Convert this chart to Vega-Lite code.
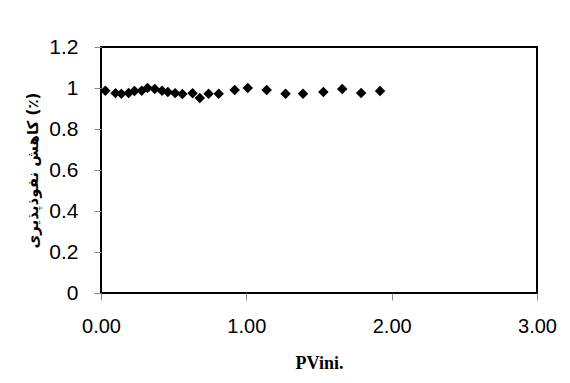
{
  "$schema": "https://vega.github.io/schema/vega-lite/v6.json",
  "width": 436,
  "height": 246,
  "autosize": "none",
  "padding": {"left": 101, "top": 47, "right": 33, "bottom": 90},
  "background": "white",
  "config": {
    "view": {"stroke": "black", "strokeWidth": 2},
    "axis": {"grid": false, "domain": false, "tickColor": "#888888", "tickSize": 7, "labelFont": "Liberation Sans", "labelColor": "black"}
  },
  "data": {
    "values": [
      {"pv": 0.03, "r": 0.987},
      {"pv": 0.10, "r": 0.975},
      {"pv": 0.14, "r": 0.972},
      {"pv": 0.19, "r": 0.976},
      {"pv": 0.23, "r": 0.985},
      {"pv": 0.28, "r": 0.987},
      {"pv": 0.32, "r": 1.0},
      {"pv": 0.37, "r": 0.995},
      {"pv": 0.42, "r": 0.987},
      {"pv": 0.46, "r": 0.98},
      {"pv": 0.51, "r": 0.975},
      {"pv": 0.56, "r": 0.971},
      {"pv": 0.63, "r": 0.974},
      {"pv": 0.68, "r": 0.951},
      {"pv": 0.74, "r": 0.972},
      {"pv": 0.81, "r": 0.972},
      {"pv": 0.92, "r": 0.99},
      {"pv": 1.01, "r": 1.0},
      {"pv": 1.14, "r": 0.99},
      {"pv": 1.27, "r": 0.972},
      {"pv": 1.39, "r": 0.972},
      {"pv": 1.53, "r": 0.98},
      {"pv": 1.66, "r": 0.995},
      {"pv": 1.79, "r": 0.976},
      {"pv": 1.92, "r": 0.985}
    ]
  },
  "mark": {"type": "point", "shape": "diamond", "filled": true, "color": "black", "opacity": 1, "size": 110},
  "encoding": {
    "x": {
      "field": "pv", "type": "quantitative",
      "scale": {"domain": [0, 3], "nice": false, "zero": true},
      "axis": {"values": [0, 1, 2, 3], "format": ".2f", "labelFlush": false, "labelFontSize": 20, "labelPadding": 16, "title": "PVini.", "titleFont": "Liberation Serif", "titleFontSize": 18, "titleFontWeight": "bold", "titlePadding": 18, "titleColor": "black"}
    },
    "y": {
      "field": "r", "type": "quantitative",
      "scale": {"domain": [0, 1.2], "nice": false},
      "axis": {"values": [0, 0.2, 0.4, 0.6, 0.8, 1, 1.2], "format": ".1~f", "labelFlush": false, "labelFontSize": 21, "labelPadding": 16, "title": "کاهش نفوذپذیری (٪)", "titleFont": "DejaVu Sans", "titleFontSize": 15, "titleFontWeight": "bold", "titlePadding": 8, "titleColor": "black"}
    }
  }
}
